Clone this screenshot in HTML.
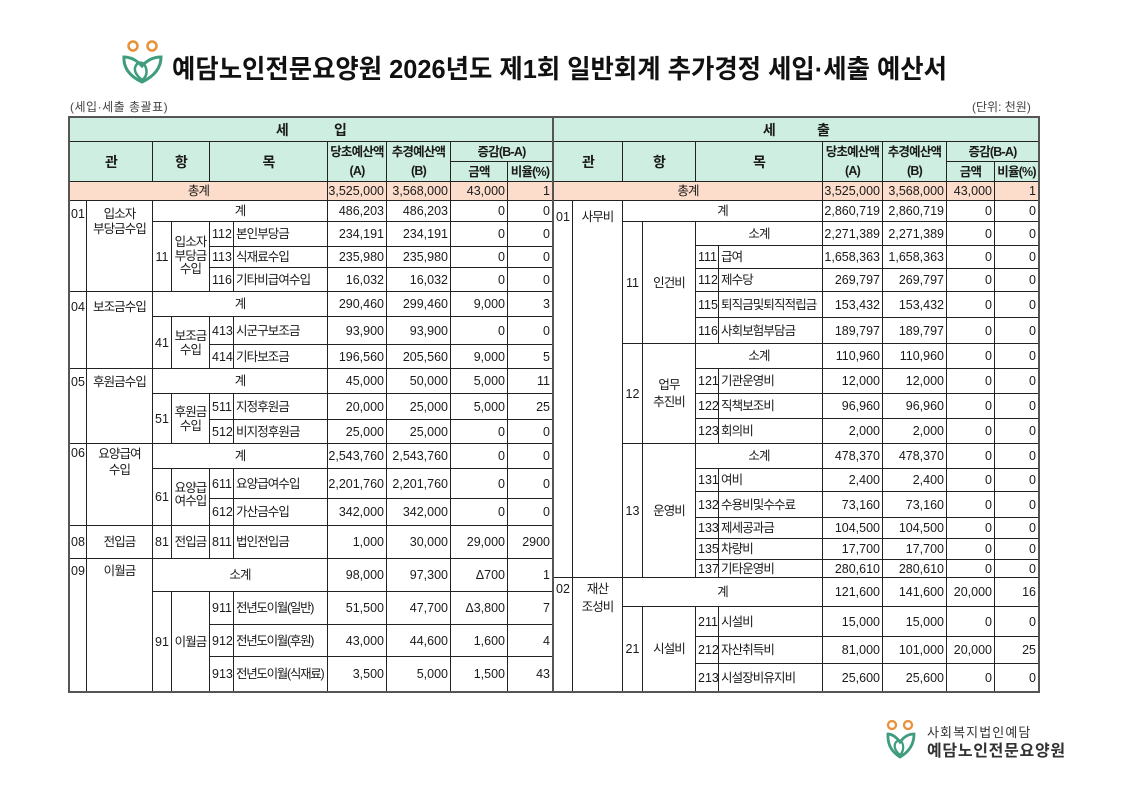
<!DOCTYPE html>
<html><head><meta charset="utf-8">
<style>
body{margin:0;width:1121px;height:793px;position:relative;background:#fff;font-family:"Liberation Sans","Noto Sans CJK KR",sans-serif;color:#1a1a1a;overflow:hidden}
.c{position:absolute;box-sizing:border-box;border:1px solid #222;display:flex;align-items:center;justify-content:center;text-align:center;font-size:12.5px;line-height:14px;white-space:nowrap}
.r{justify-content:flex-end;padding-right:2px}
.l{justify-content:flex-start;padding-left:2px}
.k{letter-spacing:-0.9px;font-size:12.5px}
.t{align-items:flex-start}
.h{background:#cdeee0;font-weight:bold;letter-spacing:-0.8px;font-size:12.5px}
.p{background:#fcdcca}
.n{font-size:12.5px}
.q{letter-spacing:-1.3px}
</style></head><body>

<svg style="position:absolute;left:0;top:0" width="1121" height="120">
<circle cx="133" cy="46" r="4.5" fill="none" stroke="#e8913a" stroke-width="2.5"/>
<circle cx="152" cy="46" r="4.5" fill="none" stroke="#e8913a" stroke-width="2.5"/>
<path d="M124 57 Q123 73 142 82 Q161 73 161 57 Q150 57 142 66 Q134 57 124 57 Z" fill="none" stroke="#3f9c7e" stroke-width="3"/>
<path d="M142 80 Q131 71 137 64 Q143 60 146 68 Q148 76 142 80" fill="none" stroke="#3f9c7e" stroke-width="2.5"/>
<text x="172" y="78" font-size="26" font-weight="bold" textLength="775" lengthAdjust="spacingAndGlyphs" fill="#111" font-family="Liberation Sans, Noto Sans CJK KR, sans-serif">예담노인전문요양원 2026년도 제1회 일반회계 추가경정 세입·세출 예산서</text>
</svg>

<div style="position:absolute;left:70px;top:98px;font-size:12px;letter-spacing:0.5px;color:#444">(세입·세출 총괄표)</div>
<div style="position:absolute;left:972px;top:98px;font-size:12px;color:#444">(단위: 천원)</div>

<!-- LEFT HEADER -->
<div class="c h" style="left:69px;top:117px;width:484px;height:25px;font-size:14px">세<span style="display:inline-block;width:46px"></span>입</div>
<div class="c h" style="left:69px;top:141px;width:84px;height:41px;font-size:14px">관</div>
<div class="c h" style="left:152px;top:141px;width:58px;height:41px;font-size:14px">항</div>
<div class="c h" style="left:209px;top:141px;width:119px;height:41px;font-size:14px">목</div>
<div class="c h" style="left:327px;top:141px;width:60px;height:41px;line-height:19px"><span>당초예산액<br>(A)</span></div>
<div class="c h" style="left:386px;top:141px;width:65px;height:41px;line-height:19px"><span>추경예산액<br>(B)</span></div>
<div class="c h" style="left:450px;top:141px;width:103px;height:21px">증감(B-A)</div>
<div class="c h" style="left:450px;top:161px;width:58px;height:21px">금액</div>
<div class="c h" style="left:507px;top:161px;width:46px;height:21px">비율(%)</div>
<div class="c p k" style="left:69px;top:181px;width:259px;height:20px">총계</div>
<div class="c p r" style="left:327px;top:181px;width:60px;height:20px">3,525,000</div>
<div class="c p r" style="left:386px;top:181px;width:65px;height:20px">3,568,000</div>
<div class="c p r" style="left:450px;top:181px;width:58px;height:20px">43,000</div>
<div class="c p r" style="left:507px;top:181px;width:46px;height:20px">1</div>

<!-- 01 -->
<div class="c t" style="left:69px;top:200px;width:18px;height:92px;padding-top:6px">01</div>
<div class="c t k" style="left:86px;top:200px;width:67px;height:92px;padding-top:6px;line-height:15px"><span>입소자<br>부당금수입</span></div>
<div class="c k" style="left:152px;top:200px;width:176px;height:22px">계</div>
<div class="c r" style="left:327px;top:200px;width:60px;height:22px">486,203</div>
<div class="c r" style="left:386px;top:200px;width:65px;height:22px">486,203</div>
<div class="c r" style="left:450px;top:200px;width:58px;height:22px">0</div>
<div class="c r" style="left:507px;top:200px;width:46px;height:22px">0</div>
<div class="c" style="left:152px;top:221px;width:20px;height:71px">11</div>
<div class="c k" style="left:171px;top:221px;width:39px;height:71px;line-height:13.5px"><span>입소자<br>부당금<br>수입</span></div>
<div class="c l" style="left:209px;top:221px;width:25px;height:26px">112</div>
<div class="c l k" style="left:233px;top:221px;width:95px;height:26px">본인부당금</div>
<div class="c r" style="left:327px;top:221px;width:60px;height:26px">234,191</div>
<div class="c r" style="left:386px;top:221px;width:65px;height:26px">234,191</div>
<div class="c r" style="left:450px;top:221px;width:58px;height:26px">0</div>
<div class="c r" style="left:507px;top:221px;width:46px;height:26px">0</div>
<div class="c l" style="left:209px;top:246px;width:25px;height:22px">113</div>
<div class="c l k" style="left:233px;top:246px;width:95px;height:22px">식재료수입</div>
<div class="c r" style="left:327px;top:246px;width:60px;height:22px">235,980</div>
<div class="c r" style="left:386px;top:246px;width:65px;height:22px">235,980</div>
<div class="c r" style="left:450px;top:246px;width:58px;height:22px">0</div>
<div class="c r" style="left:507px;top:246px;width:46px;height:22px">0</div>
<div class="c l" style="left:209px;top:267px;width:25px;height:25px">116</div>
<div class="c l k" style="left:233px;top:267px;width:95px;height:25px">기타비급여수입</div>
<div class="c r" style="left:327px;top:267px;width:60px;height:25px">16,032</div>
<div class="c r" style="left:386px;top:267px;width:65px;height:25px">16,032</div>
<div class="c r" style="left:450px;top:267px;width:58px;height:25px">0</div>
<div class="c r" style="left:507px;top:267px;width:46px;height:25px">0</div>

<!-- 04 -->
<div class="c t" style="left:69px;top:291px;width:18px;height:78px;padding-top:8px">04</div>
<div class="c t k" style="left:86px;top:291px;width:67px;height:78px;padding-top:8px">보조금수입</div>
<div class="c k" style="left:152px;top:291px;width:176px;height:26px">계</div>
<div class="c r" style="left:327px;top:291px;width:60px;height:26px">290,460</div>
<div class="c r" style="left:386px;top:291px;width:65px;height:26px">299,460</div>
<div class="c r" style="left:450px;top:291px;width:58px;height:26px">9,000</div>
<div class="c r" style="left:507px;top:291px;width:46px;height:26px">3</div>
<div class="c" style="left:152px;top:316px;width:20px;height:53px">41</div>
<div class="c k" style="left:171px;top:316px;width:39px;height:53px;line-height:14px"><span>보조금<br>수입</span></div>
<div class="c l" style="left:209px;top:316px;width:25px;height:29px">413</div>
<div class="c l k" style="left:233px;top:316px;width:95px;height:29px">시군구보조금</div>
<div class="c r" style="left:327px;top:316px;width:60px;height:29px">93,900</div>
<div class="c r" style="left:386px;top:316px;width:65px;height:29px">93,900</div>
<div class="c r" style="left:450px;top:316px;width:58px;height:29px">0</div>
<div class="c r" style="left:507px;top:316px;width:46px;height:29px">0</div>
<div class="c l" style="left:209px;top:344px;width:25px;height:25px">414</div>
<div class="c l k" style="left:233px;top:344px;width:95px;height:25px">기타보조금</div>
<div class="c r" style="left:327px;top:344px;width:60px;height:25px">196,560</div>
<div class="c r" style="left:386px;top:344px;width:65px;height:25px">205,560</div>
<div class="c r" style="left:450px;top:344px;width:58px;height:25px">9,000</div>
<div class="c r" style="left:507px;top:344px;width:46px;height:25px">5</div>

<!-- 05 -->
<div class="c t" style="left:69px;top:368px;width:18px;height:76px;padding-top:6px">05</div>
<div class="c t k" style="left:86px;top:368px;width:67px;height:76px;padding-top:6px">후원금수입</div>
<div class="c k" style="left:152px;top:368px;width:176px;height:26px">계</div>
<div class="c r" style="left:327px;top:368px;width:60px;height:26px">45,000</div>
<div class="c r" style="left:386px;top:368px;width:65px;height:26px">50,000</div>
<div class="c r" style="left:450px;top:368px;width:58px;height:26px">5,000</div>
<div class="c r" style="left:507px;top:368px;width:46px;height:26px">11</div>
<div class="c" style="left:152px;top:393px;width:20px;height:51px">51</div>
<div class="c k" style="left:171px;top:393px;width:39px;height:51px;line-height:14px"><span>후원금<br>수입</span></div>
<div class="c l" style="left:209px;top:393px;width:25px;height:27px">511</div>
<div class="c l k" style="left:233px;top:393px;width:95px;height:27px">지정후원금</div>
<div class="c r" style="left:327px;top:393px;width:60px;height:27px">20,000</div>
<div class="c r" style="left:386px;top:393px;width:65px;height:27px">25,000</div>
<div class="c r" style="left:450px;top:393px;width:58px;height:27px">5,000</div>
<div class="c r" style="left:507px;top:393px;width:46px;height:27px">25</div>
<div class="c l" style="left:209px;top:419px;width:25px;height:25px">512</div>
<div class="c l k" style="left:233px;top:419px;width:95px;height:25px">비지정후원금</div>
<div class="c r" style="left:327px;top:419px;width:60px;height:25px">25,000</div>
<div class="c r" style="left:386px;top:419px;width:65px;height:25px">25,000</div>
<div class="c r" style="left:450px;top:419px;width:58px;height:25px">0</div>
<div class="c r" style="left:507px;top:419px;width:46px;height:25px">0</div>

<!-- 06 -->
<div class="c t" style="left:69px;top:443px;width:18px;height:83px;padding-top:2px">06</div>
<div class="c t k" style="left:86px;top:443px;width:67px;height:83px;padding-top:2px;line-height:16px"><span>요양급여<br>수입</span></div>
<div class="c k" style="left:152px;top:443px;width:176px;height:26px">계</div>
<div class="c r" style="left:327px;top:443px;width:60px;height:26px">2,543,760</div>
<div class="c r" style="left:386px;top:443px;width:65px;height:26px">2,543,760</div>
<div class="c r" style="left:450px;top:443px;width:58px;height:26px">0</div>
<div class="c r" style="left:507px;top:443px;width:46px;height:26px">0</div>
<div class="c" style="left:152px;top:468px;width:20px;height:58px">61</div>
<div class="c k" style="left:171px;top:468px;width:39px;height:58px;line-height:13.5px;padding-bottom:4px"><span>요양급<br>여수입</span></div>
<div class="c l" style="left:209px;top:468px;width:25px;height:31px">611</div>
<div class="c l k" style="left:233px;top:468px;width:95px;height:31px">요양급여수입</div>
<div class="c r" style="left:327px;top:468px;width:60px;height:31px">2,201,760</div>
<div class="c r" style="left:386px;top:468px;width:65px;height:31px">2,201,760</div>
<div class="c r" style="left:450px;top:468px;width:58px;height:31px">0</div>
<div class="c r" style="left:507px;top:468px;width:46px;height:31px">0</div>
<div class="c l" style="left:209px;top:498px;width:25px;height:28px">612</div>
<div class="c l k" style="left:233px;top:498px;width:95px;height:28px">가산금수입</div>
<div class="c r" style="left:327px;top:498px;width:60px;height:28px">342,000</div>
<div class="c r" style="left:386px;top:498px;width:65px;height:28px">342,000</div>
<div class="c r" style="left:450px;top:498px;width:58px;height:28px">0</div>
<div class="c r" style="left:507px;top:498px;width:46px;height:28px">0</div>

<!-- 08 -->
<div class="c" style="left:69px;top:525px;width:18px;height:34px">08</div>
<div class="c k" style="left:86px;top:525px;width:67px;height:34px">전입금</div>
<div class="c" style="left:152px;top:525px;width:20px;height:34px">81</div>
<div class="c k" style="left:171px;top:525px;width:39px;height:34px">전입금</div>
<div class="c l" style="left:209px;top:525px;width:25px;height:34px">811</div>
<div class="c l k" style="left:233px;top:525px;width:95px;height:34px">법인전입금</div>
<div class="c r" style="left:327px;top:525px;width:60px;height:34px">1,000</div>
<div class="c r" style="left:386px;top:525px;width:65px;height:34px">30,000</div>
<div class="c r" style="left:450px;top:525px;width:58px;height:34px">29,000</div>
<div class="c r" style="left:507px;top:525px;width:46px;height:34px">2900</div>

<!-- 09 -->
<div class="c t" style="left:69px;top:558px;width:18px;height:134px;padding-top:5px">09</div>
<div class="c t k" style="left:86px;top:558px;width:67px;height:134px;padding-top:5px">이월금</div>
<div class="c k" style="left:152px;top:558px;width:176px;height:34px">소계</div>
<div class="c r" style="left:327px;top:558px;width:60px;height:34px">98,000</div>
<div class="c r" style="left:386px;top:558px;width:65px;height:34px">97,300</div>
<div class="c r" style="left:450px;top:558px;width:58px;height:34px">Δ700</div>
<div class="c r" style="left:507px;top:558px;width:46px;height:34px">1</div>
<div class="c" style="left:152px;top:591px;width:20px;height:101px">91</div>
<div class="c k" style="left:171px;top:591px;width:39px;height:101px">이월금</div>
<div class="c l" style="left:209px;top:591px;width:25px;height:34px">911</div>
<div class="c l k q" style="left:233px;top:591px;width:95px;height:34px">전년도이월(일반)</div>
<div class="c r" style="left:327px;top:591px;width:60px;height:34px">51,500</div>
<div class="c r" style="left:386px;top:591px;width:65px;height:34px">47,700</div>
<div class="c r" style="left:450px;top:591px;width:58px;height:34px">Δ3,800</div>
<div class="c r" style="left:507px;top:591px;width:46px;height:34px">7</div>
<div class="c l" style="left:209px;top:624px;width:25px;height:33px">912</div>
<div class="c l k q" style="left:233px;top:624px;width:95px;height:33px">전년도이월(후원)</div>
<div class="c r" style="left:327px;top:624px;width:60px;height:33px">43,000</div>
<div class="c r" style="left:386px;top:624px;width:65px;height:33px">44,600</div>
<div class="c r" style="left:450px;top:624px;width:58px;height:33px">1,600</div>
<div class="c r" style="left:507px;top:624px;width:46px;height:33px">4</div>
<div class="c l" style="left:209px;top:656px;width:25px;height:36px">913</div>
<div class="c l k q" style="left:233px;top:656px;width:95px;height:36px">전년도이월(식재료)</div>
<div class="c r" style="left:327px;top:656px;width:60px;height:36px">3,500</div>
<div class="c r" style="left:386px;top:656px;width:65px;height:36px">5,000</div>
<div class="c r" style="left:450px;top:656px;width:58px;height:36px">1,500</div>
<div class="c r" style="left:507px;top:656px;width:46px;height:36px">43</div>

<!-- RIGHT HEADER -->
<div class="c h" style="left:553px;top:117px;width:486px;height:25px;font-size:14px">세<span style="display:inline-block;width:42px"></span>출</div>
<div class="c h" style="left:553px;top:141px;width:70px;height:41px;font-size:14px">관</div>
<div class="c h" style="left:622px;top:141px;width:74px;height:41px;font-size:14px">항</div>
<div class="c h" style="left:695px;top:141px;width:128px;height:41px;font-size:14px">목</div>
<div class="c h" style="left:822px;top:141px;width:61px;height:41px;line-height:19px"><span>당초예산액<br>(A)</span></div>
<div class="c h" style="left:882px;top:141px;width:65px;height:41px;line-height:19px"><span>추경예산액<br>(B)</span></div>
<div class="c h" style="left:946px;top:141px;width:93px;height:21px">증감(B-A)</div>
<div class="c h" style="left:946px;top:161px;width:49px;height:21px">금액</div>
<div class="c h" style="left:994px;top:161px;width:45px;height:21px">비율(%)</div>
<div class="c p k" style="left:553px;top:181px;width:270px;height:20px">총계</div>
<div class="c p r" style="left:822px;top:181px;width:61px;height:20px">3,525,000</div>
<div class="c p r" style="left:882px;top:181px;width:65px;height:20px">3,568,000</div>
<div class="c p r" style="left:946px;top:181px;width:49px;height:20px">43,000</div>
<div class="c p r" style="left:994px;top:181px;width:45px;height:20px">1</div>

<!-- R 01 -->
<div class="c t" style="left:553px;top:200px;width:20px;height:378px;padding-top:9px">01</div>
<div class="c t k" style="left:572px;top:200px;width:51px;height:378px;padding-top:9px">사무비</div>
<div class="c k" style="left:622px;top:200px;width:201px;height:22px">계</div>
<div class="c r" style="left:822px;top:200px;width:61px;height:22px">2,860,719</div>
<div class="c r" style="left:882px;top:200px;width:65px;height:22px">2,860,719</div>
<div class="c r" style="left:946px;top:200px;width:49px;height:22px">0</div>
<div class="c r" style="left:994px;top:200px;width:45px;height:22px">0</div>

<div class="c" style="left:622px;top:221px;width:21px;height:123px">11</div>
<div class="c k" style="left:642px;top:221px;width:54px;height:123px">인건비</div>
<div class="c k" style="left:695px;top:221px;width:128px;height:25px">소계</div>
<div class="c r" style="left:822px;top:221px;width:61px;height:25px">2,271,389</div>
<div class="c r" style="left:882px;top:221px;width:65px;height:25px">2,271,389</div>
<div class="c r" style="left:946px;top:221px;width:49px;height:25px">0</div>
<div class="c r" style="left:994px;top:221px;width:45px;height:25px">0</div>
<div class="c l" style="left:695px;top:245px;width:24px;height:24px">111</div>
<div class="c l k" style="left:718px;top:245px;width:105px;height:24px">급여</div>
<div class="c r" style="left:822px;top:245px;width:61px;height:24px">1,658,363</div>
<div class="c r" style="left:882px;top:245px;width:65px;height:24px">1,658,363</div>
<div class="c r" style="left:946px;top:245px;width:49px;height:24px">0</div>
<div class="c r" style="left:994px;top:245px;width:45px;height:24px">0</div>
<div class="c l" style="left:695px;top:268px;width:24px;height:24px">112</div>
<div class="c l k" style="left:718px;top:268px;width:105px;height:24px">제수당</div>
<div class="c r" style="left:822px;top:268px;width:61px;height:24px">269,797</div>
<div class="c r" style="left:882px;top:268px;width:65px;height:24px">269,797</div>
<div class="c r" style="left:946px;top:268px;width:49px;height:24px">0</div>
<div class="c r" style="left:994px;top:268px;width:45px;height:24px">0</div>
<div class="c l" style="left:695px;top:291px;width:24px;height:27px">115</div>
<div class="c l k" style="left:718px;top:291px;width:105px;height:27px">퇴직금및퇴직적립금</div>
<div class="c r" style="left:822px;top:291px;width:61px;height:27px">153,432</div>
<div class="c r" style="left:882px;top:291px;width:65px;height:27px">153,432</div>
<div class="c r" style="left:946px;top:291px;width:49px;height:27px">0</div>
<div class="c r" style="left:994px;top:291px;width:45px;height:27px">0</div>
<div class="c l" style="left:695px;top:317px;width:24px;height:27px">116</div>
<div class="c l k" style="left:718px;top:317px;width:105px;height:27px">사회보험부담금</div>
<div class="c r" style="left:822px;top:317px;width:61px;height:27px">189,797</div>
<div class="c r" style="left:882px;top:317px;width:65px;height:27px">189,797</div>
<div class="c r" style="left:946px;top:317px;width:49px;height:27px">0</div>
<div class="c r" style="left:994px;top:317px;width:45px;height:27px">0</div>

<div class="c" style="left:622px;top:343px;width:21px;height:101px">12</div>
<div class="c k" style="left:642px;top:343px;width:54px;height:101px;line-height:17px"><span>업무<br>추진비</span></div>
<div class="c k" style="left:695px;top:343px;width:128px;height:26px">소계</div>
<div class="c r" style="left:822px;top:343px;width:61px;height:26px">110,960</div>
<div class="c r" style="left:882px;top:343px;width:65px;height:26px">110,960</div>
<div class="c r" style="left:946px;top:343px;width:49px;height:26px">0</div>
<div class="c r" style="left:994px;top:343px;width:45px;height:26px">0</div>
<div class="c l" style="left:695px;top:368px;width:24px;height:26px">121</div>
<div class="c l k" style="left:718px;top:368px;width:105px;height:26px">기관운영비</div>
<div class="c r" style="left:822px;top:368px;width:61px;height:26px">12,000</div>
<div class="c r" style="left:882px;top:368px;width:65px;height:26px">12,000</div>
<div class="c r" style="left:946px;top:368px;width:49px;height:26px">0</div>
<div class="c r" style="left:994px;top:368px;width:45px;height:26px">0</div>
<div class="c l" style="left:695px;top:393px;width:24px;height:26px">122</div>
<div class="c l k" style="left:718px;top:393px;width:105px;height:26px">직책보조비</div>
<div class="c r" style="left:822px;top:393px;width:61px;height:26px">96,960</div>
<div class="c r" style="left:882px;top:393px;width:65px;height:26px">96,960</div>
<div class="c r" style="left:946px;top:393px;width:49px;height:26px">0</div>
<div class="c r" style="left:994px;top:393px;width:45px;height:26px">0</div>
<div class="c l" style="left:695px;top:418px;width:24px;height:26px">123</div>
<div class="c l k" style="left:718px;top:418px;width:105px;height:26px">회의비</div>
<div class="c r" style="left:822px;top:418px;width:61px;height:26px">2,000</div>
<div class="c r" style="left:882px;top:418px;width:65px;height:26px">2,000</div>
<div class="c r" style="left:946px;top:418px;width:49px;height:26px">0</div>
<div class="c r" style="left:994px;top:418px;width:45px;height:26px">0</div>

<div class="c" style="left:622px;top:443px;width:21px;height:135px">13</div>
<div class="c k" style="left:642px;top:443px;width:54px;height:135px">운영비</div>
<div class="c k" style="left:695px;top:443px;width:128px;height:26px">소계</div>
<div class="c r" style="left:822px;top:443px;width:61px;height:26px">478,370</div>
<div class="c r" style="left:882px;top:443px;width:65px;height:26px">478,370</div>
<div class="c r" style="left:946px;top:443px;width:49px;height:26px">0</div>
<div class="c r" style="left:994px;top:443px;width:45px;height:26px">0</div>
<div class="c l" style="left:695px;top:468px;width:24px;height:24px">131</div>
<div class="c l k" style="left:718px;top:468px;width:105px;height:24px">여비</div>
<div class="c r" style="left:822px;top:468px;width:61px;height:24px">2,400</div>
<div class="c r" style="left:882px;top:468px;width:65px;height:24px">2,400</div>
<div class="c r" style="left:946px;top:468px;width:49px;height:24px">0</div>
<div class="c r" style="left:994px;top:468px;width:45px;height:24px">0</div>
<div class="c l" style="left:695px;top:491px;width:24px;height:27px">132</div>
<div class="c l k" style="left:718px;top:491px;width:105px;height:27px">수용비및수수료</div>
<div class="c r" style="left:822px;top:491px;width:61px;height:27px">73,160</div>
<div class="c r" style="left:882px;top:491px;width:65px;height:27px">73,160</div>
<div class="c r" style="left:946px;top:491px;width:49px;height:27px">0</div>
<div class="c r" style="left:994px;top:491px;width:45px;height:27px">0</div>
<div class="c l" style="left:695px;top:517px;width:24px;height:22px">133</div>
<div class="c l k" style="left:718px;top:517px;width:105px;height:22px">제세공과금</div>
<div class="c r" style="left:822px;top:517px;width:61px;height:22px">104,500</div>
<div class="c r" style="left:882px;top:517px;width:65px;height:22px">104,500</div>
<div class="c r" style="left:946px;top:517px;width:49px;height:22px">0</div>
<div class="c r" style="left:994px;top:517px;width:45px;height:22px">0</div>
<div class="c l" style="left:695px;top:538px;width:24px;height:22px">135</div>
<div class="c l k" style="left:718px;top:538px;width:105px;height:22px">차량비</div>
<div class="c r" style="left:822px;top:538px;width:61px;height:22px">17,700</div>
<div class="c r" style="left:882px;top:538px;width:65px;height:22px">17,700</div>
<div class="c r" style="left:946px;top:538px;width:49px;height:22px">0</div>
<div class="c r" style="left:994px;top:538px;width:45px;height:22px">0</div>
<div class="c l" style="left:695px;top:559px;width:24px;height:19px">137</div>
<div class="c l k" style="left:718px;top:559px;width:105px;height:19px">기타운영비</div>
<div class="c r" style="left:822px;top:559px;width:61px;height:19px">280,610</div>
<div class="c r" style="left:882px;top:559px;width:65px;height:19px">280,610</div>
<div class="c r" style="left:946px;top:559px;width:49px;height:19px">0</div>
<div class="c r" style="left:994px;top:559px;width:45px;height:19px">0</div>

<!-- R 02 -->
<div class="c t" style="left:553px;top:577px;width:20px;height:115px;padding-top:4px">02</div>
<div class="c t k" style="left:572px;top:577px;width:51px;height:115px;padding-top:2px;line-height:18px"><span>재산<br>조성비</span></div>
<div class="c k" style="left:622px;top:577px;width:201px;height:30px">계</div>
<div class="c r" style="left:822px;top:577px;width:61px;height:30px">121,600</div>
<div class="c r" style="left:882px;top:577px;width:65px;height:30px">141,600</div>
<div class="c r" style="left:946px;top:577px;width:49px;height:30px">20,000</div>
<div class="c r" style="left:994px;top:577px;width:45px;height:30px">16</div>
<div class="c" style="left:622px;top:606px;width:21px;height:86px">21</div>
<div class="c k" style="left:642px;top:606px;width:54px;height:86px">시설비</div>
<div class="c l" style="left:695px;top:606px;width:24px;height:31px">211</div>
<div class="c l k" style="left:718px;top:606px;width:105px;height:31px">시설비</div>
<div class="c r" style="left:822px;top:606px;width:61px;height:31px">15,000</div>
<div class="c r" style="left:882px;top:606px;width:65px;height:31px">15,000</div>
<div class="c r" style="left:946px;top:606px;width:49px;height:31px">0</div>
<div class="c r" style="left:994px;top:606px;width:45px;height:31px">0</div>
<div class="c l" style="left:695px;top:636px;width:24px;height:28px">212</div>
<div class="c l k" style="left:718px;top:636px;width:105px;height:28px">자산취득비</div>
<div class="c r" style="left:822px;top:636px;width:61px;height:28px">81,000</div>
<div class="c r" style="left:882px;top:636px;width:65px;height:28px">101,000</div>
<div class="c r" style="left:946px;top:636px;width:49px;height:28px">20,000</div>
<div class="c r" style="left:994px;top:636px;width:45px;height:28px">25</div>
<div class="c l" style="left:695px;top:663px;width:24px;height:29px">213</div>
<div class="c l k" style="left:718px;top:663px;width:105px;height:29px">시설장비유지비</div>
<div class="c r" style="left:822px;top:663px;width:61px;height:29px">25,600</div>
<div class="c r" style="left:882px;top:663px;width:65px;height:29px">25,600</div>
<div class="c r" style="left:946px;top:663px;width:49px;height:29px">0</div>
<div class="c r" style="left:994px;top:663px;width:45px;height:29px">0</div>

<!-- outer borders -->
<div style="position:absolute;left:68px;top:116px;width:486px;height:577px;border:2px solid #555;box-sizing:border-box"></div>
<div style="position:absolute;left:552px;top:116px;width:488px;height:577px;border:2px solid #555;box-sizing:border-box"></div>

<!-- footer logo -->
<svg style="position:absolute;left:880px;top:715px" width="45" height="48">
<circle cx="12" cy="10" r="4" fill="none" stroke="#e8913a" stroke-width="2.3"/>
<circle cx="28" cy="10" r="4" fill="none" stroke="#e8913a" stroke-width="2.3"/>
<path d="M8 19 Q7 34 20 42 Q34 34 34 19 Q26 19 20 27 Q14 19 8 19 Z" fill="none" stroke="#3f9c7e" stroke-width="2.8"/>
<path d="M20 40 Q12 33 16 27 Q21 23 23 30 Q24 36 20 40" fill="none" stroke="#3f9c7e" stroke-width="2.2"/>
</svg>
<div style="position:absolute;left:927px;top:722px;font-size:13px;color:#333;letter-spacing:1.1px;white-space:nowrap">사회복지법인예담</div>
<div style="position:absolute;left:927px;top:737px;font-size:16px;font-weight:bold;color:#333;letter-spacing:0.7px;white-space:nowrap">예담노인전문요양원</div>

</body></html>
